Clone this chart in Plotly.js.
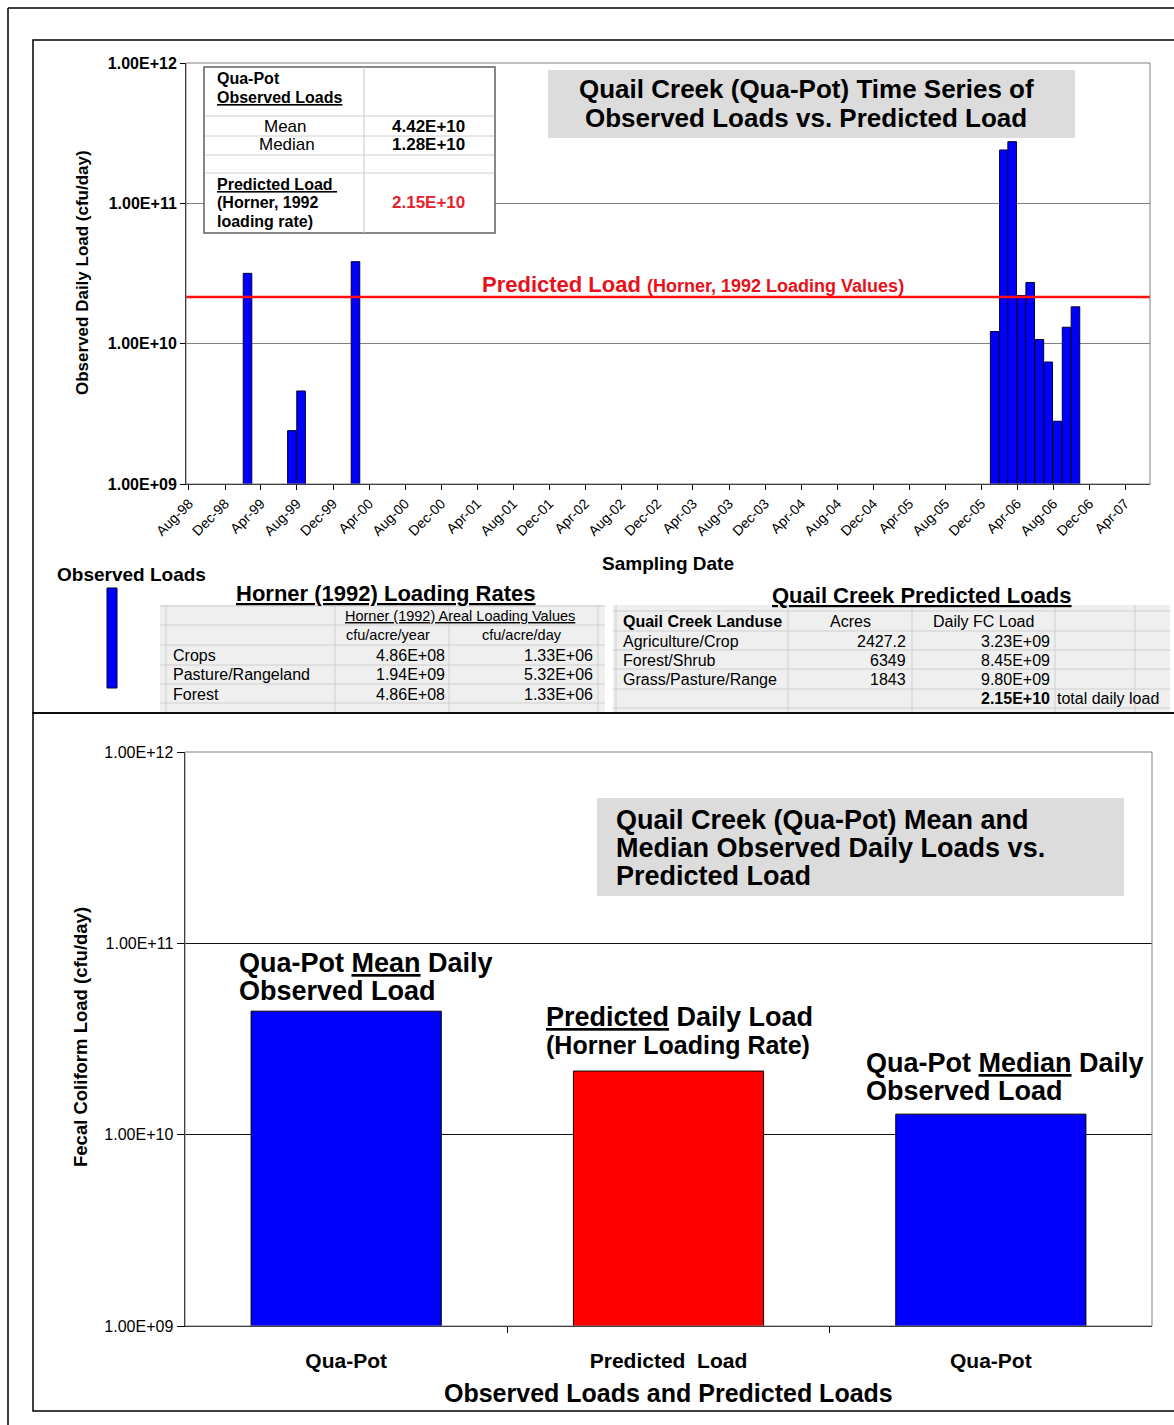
<!DOCTYPE html>
<html><head><meta charset="utf-8">
<script src="https://cdn.plot.ly/plotly-3.0.1.min.js"></script>
<style>html,body{margin:0;padding:0;background:#fff}#chart{width:1174px;height:1425px}</style>
</head><body><div id="chart"></div>
<script>
// ---------- DATA ----------
const obsDates = ['1999-02-15','1999-07-15','1999-08-15','2000-02-15',
  '2006-01-15','2006-02-15','2006-03-15','2006-04-15','2006-05-15','2006-06-15',
  '2006-07-15','2006-08-15','2006-09-15','2006-10-15'];
const obsLoads = [3.17e10, 2.4e9, 4.6e9, 3.84e10,
  1.22e10, 2.40e11, 2.75e11, 2.2e10, 2.73e10, 1.07e10,
  7.4e9, 2.8e9, 1.31e10, 1.83e10];
const tickDates = ['1998-08-01','1998-12-01','1999-04-01','1999-08-01','1999-12-01','2000-04-01',
  '2000-08-01','2000-12-01','2001-04-01','2001-08-01','2001-12-01','2002-04-01','2002-08-01',
  '2002-12-01','2003-04-01','2003-08-01','2003-12-01','2004-04-01','2004-08-01','2004-12-01',
  '2005-04-01','2005-08-01','2005-12-01','2006-04-01','2006-08-01','2006-12-01','2007-04-01'];
const tickLabels = ['Aug-98','Dec-98','Apr-99','Aug-99','Dec-99','Apr-00','Aug-00','Dec-00',
  'Apr-01','Aug-01','Dec-01','Apr-02','Aug-02','Dec-02','Apr-03','Aug-03','Dec-03','Apr-04',
  'Aug-04','Dec-04','Apr-05','Aug-05','Dec-05','Apr-06','Aug-06','Dec-06','Apr-07'];
const logTicks = [1e9, 1e10, 1e11, 1e12];
const logTickLabels = ['1.00E+09','1.00E+10','1.00E+11','1.00E+12'];
const meanLoad = 4.42e10;
const medianLoad = 1.28e10;
const predictedLoad = 2.15e10;
const summaryLabels = ['Qua-Pot','Predicted  Load','Qua-Pot'];
const summaryValues = [meanLoad, predictedLoad, medianLoad];
// Horner (1992) table
const hornerLanduse = ['Crops','Pasture/Rangeland','Forest'];
const hornerPerYear = ['4.86E+08','1.94E+09','4.86E+08'];
const hornerPerDay = ['1.33E+06','5.32E+06','1.33E+06'];
// Quail Creek predicted loads table
const qcLanduse = ['Agriculture/Crop','Forest/Shrub','Grass/Pasture/Range'];
const qcAcres = ['2427.2','6349','1843'];
const qcDailyLoad = ['3.23E+09','8.45E+09','9.80E+09'];
const qcTotal = '2.15E+10';

// ---------- HELPERS ----------
const W = 1174, H = 1425;
const X = p => p / W;
const Y = p => 1 - p / H;
const FONT = '"Liberation Sans", Arial, sans-serif';
function fmtE(v){
  const e = Math.floor(Math.log10(v));
  const m = v / Math.pow(10, e);
  return m.toFixed(2) + 'E' + (e >= 0 ? '+' : '-') + String(Math.abs(e)).padStart(2,'0');
}
const U = t => '<span style="text-decoration:underline">' + t + '</span>';
const ann = [];
function T(text, x, y, size, opts){
  opts = opts || {};
  ann.push({text: text, xref:'paper', yref:'paper', x: X(x), y: Y(y),
    xanchor: opts.anchor || 'left', yanchor: 'middle', showarrow: false,
    textangle: opts.angle || 0,
    font: {family: FONT, size: size, color: opts.color || '#000', weight: opts.bold ? 'bold' : 'normal'}});
}
const shapes = [];
function R(x0,y0,x1,y1,fill,line,lw){
  shapes.push({type:'rect', xref:'paper', yref:'paper', x0:X(x0), x1:X(x1), y0:Y(y1), y1:Y(y0),
    fillcolor: fill || 'rgba(0,0,0,0)', line:{color: line || 'rgba(0,0,0,0)', width: lw===undefined?1:lw}, layer:'above'});
}
function L(x0,y0,x1,y1,color,lw){
  shapes.push({type:'line', xref:'paper', yref:'paper', x0:X(x0), x1:X(x1), y0:Y(y0), y1:Y(y1),
    line:{color: color, width: lw||1}, layer:'above'});
}

// ---------- FRAMES ----------
L(8,8,1174,8,'#000',1.5); L(8,8,8,1425,'#000',1.5);
R(33,40,1190,713,null,'#000',1.5);
R(33,713,1190,1411,null,'#000',1.5);
R(186,63,1150,484,null,'#808080',1);
R(185,752,1152,1326,null,'#808080',1);

// ---------- TOP CHART ANNOTATIONS ----------
R(548,70,1075,138,'#dcdcdc',null,0);
T('Quail Creek (Qua-Pot) Time Series of', 806, 89, 26, {anchor:'center', bold:true});
T('Observed Loads vs. Predicted Load', 806, 118, 26, {anchor:'center', bold:true});

// inset table
R(204,67,495,233,'#ffffff','#606060',1.5);
L(364,67,364,233,'#c8c8c8',1);
[116,136,155,173].forEach(yy => L(205,yy,494,yy,'#d0d0d0',1));
T('Qua-Pot', 215, 79, 16, {bold:true});
T(U('Observed Loads'), 215, 98, 16, {bold:true});
T('Mean', 285, 126, 17, {anchor:'center'});
T('Median', 287, 145, 17, {anchor:'center'});
T(fmtE(meanLoad), 428, 126, 17, {anchor:'center', bold:true});
T(fmtE(medianLoad), 428, 145, 17, {anchor:'center', bold:true});
T(U('Predicted Load '), 215, 184, 16, {bold:true});
T('(Horner, 1992', 215, 203, 16, {bold:true});
T('loading rate)', 215, 221, 16, {bold:true});
T(fmtE(predictedLoad), 428, 203, 17, {anchor:'center', bold:true, color:'#e8202a'});

T('<b>Predicted Load</b> <span style="font-size:18px">(Horner, 1992 Loading Values)</span>',
  480, 285, 22, {bold:true, color:'#e8101a'});

T('Observed Daily Load (cfu/day)', 82, 273, 17, {anchor:'center', bold:true, angle:-90});
T('Sampling Date', 668, 563, 19, {anchor:'center', bold:true});

// legend
T('Observed Loads', 55, 575, 19, {bold:true});
R(107,588,117,688,'#0000ff','#000033',1);

// Horner table
T(U('Horner (1992) Loading Rates'), 386, 593, 22, {anchor:'center', bold:true});
R(160,605,605,712,'#efefef',null,0);
[606,625,645,665,684,703].forEach(yy => L(160,yy,605,yy,'#cfcfcf',1));
[166,335,449,598].forEach(xx => L(xx,605,xx,712,'#cfcfcf',1));
T(U('Horner (1992) Areal Loading Values'), 343, 616, 14.5);
T('cfu/acre/year', 388, 635, 14.5, {anchor:'center'});
T('cfu/acre/day', 522, 635, 14.5, {anchor:'center'});
hornerLanduse.forEach((s,i) => {
  const yy = 655 + i*19.5;
  T(s, 171, yy, 16);
  T(hornerPerYear[i], 447, yy, 16, {anchor:'right'});
  T(hornerPerDay[i], 595, yy, 16, {anchor:'right'});
});

// Quail Creek predicted table
T(U('Quail Creek Predicted Loads'), 922, 596, 22, {anchor:'center', bold:true});
R(613,605,1170,712,'#efefef',null,0);
[611,631,650,669,689,708].forEach(yy => L(613,yy,1170,yy,'#cfcfcf',1));
[616,788,912,1055,1135].forEach(xx => L(xx,605,xx,712,'#cfcfcf',1));
T('Quail Creek Landuse', 621, 621, 16, {bold:true});
T('Acres', 850, 621, 16, {anchor:'center'});
T('Daily FC Load', 983, 621, 16, {anchor:'center'});
qcLanduse.forEach((s,i) => {
  const yy = 641 + i*19.2;
  T(s, 621, yy, 16);
  T(qcAcres[i], 908, yy, 16, {anchor:'right'});
  T(qcDailyLoad[i], 1052, yy, 16, {anchor:'right'});
});
T('<b>' + qcTotal + '</b>', 1052, 698, 16, {anchor:'right'});
T('total daily load', 1055, 698, 16);

// ---------- BOTTOM CHART ANNOTATIONS ----------
R(597,798,1124,896,'#dcdcdc',null,0);
T('Quail Creek (Qua-Pot) Mean and', 614, 820, 27, {bold:true});
T('Median Observed Daily Loads vs.', 614, 848, 27, {bold:true});
T('Predicted Load', 614, 876, 27, {bold:true});

T('Qua-Pot ' + U('Mean') + ' Daily', 237, 963, 27, {bold:true});
T('Observed Load', 237, 991, 27, {bold:true});
T(U('Predicted') + ' Daily Load', 544, 1017, 27, {bold:true});
T('(Horner Loading Rate)', 544, 1045, 25, {bold:true});
T('Qua-Pot ' + U('Median') + ' Daily', 864, 1063, 27, {bold:true});
T('Observed Load', 864, 1091, 27, {bold:true});

T('Fecal Coliform Load (cfu/day)', 80, 1037, 18.5, {anchor:'center', bold:true, angle:-90});
T('Observed Loads and Predicted Loads', 668, 1393, 25, {anchor:'center', bold:true});

// ---------- TRACES ----------
const rangeStart = '1998-07-22', rangeEnd = '2007-06-24';
const traces = [
  {type:'bar', x: obsDates, y: obsLoads, xaxis:'x', yaxis:'y',
   width: 86400000*29, marker:{color:'#0000ff', line:{color:'#000033', width:1}},
   hoverinfo:'x+y', showlegend:false},
  {type:'scatter', mode:'lines', x:[rangeStart, rangeEnd], y:[predictedLoad, predictedLoad],
   xaxis:'x', yaxis:'y', line:{color:'#ff1010', width:2.5}, showlegend:false, hoverinfo:'y'},
  {type:'bar', x:[0,1,2], y: summaryValues, xaxis:'x2', yaxis:'y2', width:0.59,
   marker:{color:['#0000ff','#ff0000','#0000ff'], line:{color:'#000', width:1}},
   showlegend:false, hoverinfo:'y'},
  {type:'scatter', mode:'markers', x:[0.5], y:[1e9], xaxis:'x3', yaxis:'y2',
   marker:{opacity:0}, showlegend:false, hoverinfo:'skip'}
];

const layout = {
  width: W, height: H, margin:{l:0,r:0,t:0,b:0},
  paper_bgcolor:'#fff', plot_bgcolor:'#fff', showlegend:false, bargap:0,
  font:{family: FONT, color:'#000'},
  xaxis:{domain:[X(186), X(1150)], anchor:'y', type:'date', range:[rangeStart, rangeEnd],
    tickmode:'array', tickvals: tickDates, ticktext: tickLabels, tickangle:-45,
    ticks:'outside', ticklen:5, tickcolor:'#000', showline:true, linecolor:'#000', linewidth:1,
    showgrid:false, zeroline:false, tickfont:{family:FONT, size:14, color:'#000'}},
  yaxis:{domain:[Y(484), Y(63)], anchor:'x', type:'log', range:[9,12],
    tickmode:'array', tickvals: logTicks, ticktext: logTickLabels,
    ticks:'outside', ticklen:5, tickcolor:'#000', showline:true, linecolor:'#000', linewidth:1,
    showgrid:true, gridcolor:'#808080', gridwidth:1, zeroline:false,
    tickfont:{family:FONT, size:16, color:'#000', weight:'bold'}},
  xaxis2:{domain:[X(185), X(1152)], anchor:'y2', type:'linear', range:[-0.5,2.5],
    tickmode:'array', tickvals:[0,1,2], ticktext: summaryLabels,
    ticks:'outside', ticklen:16, tickcolor:'rgba(0,0,0,0)', showline:true, linecolor:'#000', linewidth:1,
    showgrid:false, zeroline:false, tickfont:{family:FONT, size:21, color:'#000', weight:'bold'}},
  xaxis3:{domain:[X(185), X(1152)], anchor:'y2', overlaying:'x2', type:'linear', range:[-0.5,2.5],
    tickmode:'array', tickvals:[0.5,1.5], ticks:'outside', ticklen:6, tickcolor:'#000',
    showticklabels:false, showgrid:false, zeroline:false, showline:false},
  yaxis2:{domain:[Y(1326), Y(752)], anchor:'x2', type:'log', range:[9,12],
    tickmode:'array', tickvals: logTicks, ticktext: logTickLabels,
    ticks:'outside', ticklen:7, tickcolor:'#000', showline:true, linecolor:'#000', linewidth:1.5,
    showgrid:true, gridcolor:'#111', gridwidth:1, zeroline:false,
    tickfont:{family:FONT, size:16, color:'#000'}},
  shapes: shapes,
  annotations: ann
};
Plotly.newPlot('chart', traces, layout, {staticPlot:true});
</script></body></html>
